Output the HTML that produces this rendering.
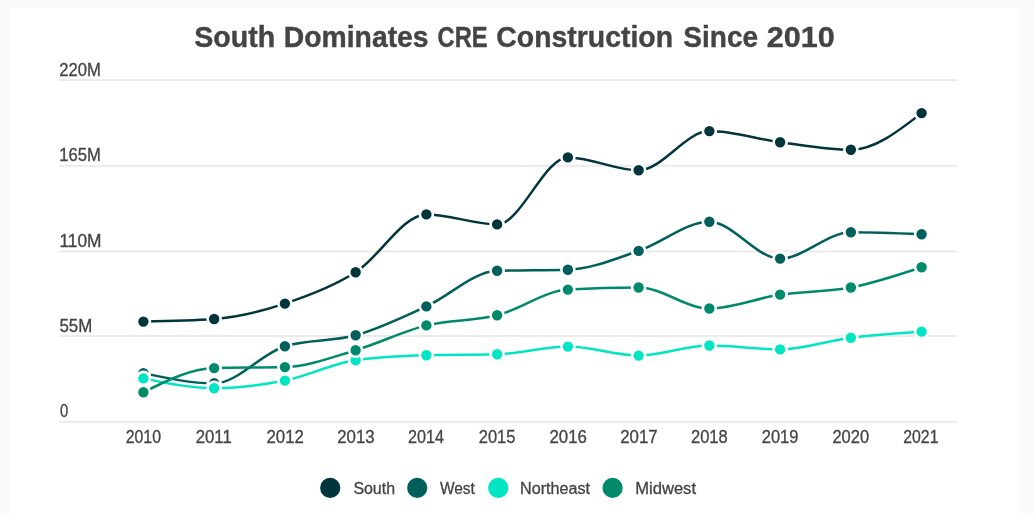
<!DOCTYPE html>
<html lang="en"><head><meta charset="utf-8"><title>South Dominates CRE Construction Since 2010</title>
<style>
html,body{margin:0;padding:0;background:#fafafa;}
body{width:1035px;height:513px;overflow:hidden;position:relative;font-family:"Liberation Sans",sans-serif;}
.card{position:absolute;left:10px;top:8px;width:1010px;height:505px;background:#fff;}
.top{position:absolute;left:0;top:0;width:1035px;height:4px;background:#f9f9f9;}
svg{position:absolute;left:0;top:0;}
text{font-family:"Liberation Sans",sans-serif;fill:#444;}
.t{font-weight:bold;font-size:30.3px;stroke:#444;stroke-width:0.4px;}
.l{font-size:17.5px;stroke:#444;stroke-width:0.3px;}
.g{font-size:16px;stroke:#444;stroke-width:0.3px;}
</style></head><body>
<div class="top"></div>
<div class="card"></div>
<svg width="1035" height="513" viewBox="0 0 1035 513">
<rect x="59.1" y="79.10" width="897.9" height="2" fill="#ebebeb"/>
<rect x="59.1" y="164.80" width="897.9" height="2" fill="#ebebeb"/>
<rect x="59.1" y="250.40" width="897.9" height="2" fill="#ebebeb"/>
<rect x="59.1" y="335.00" width="897.9" height="2" fill="#ebebeb"/>
<rect x="59.1" y="420.80" width="897.9" height="2" fill="#ebebeb"/>
<text class="t" y="47.40"><tspan x="194.30" textLength="80.90" lengthAdjust="spacingAndGlyphs">South</tspan> <tspan x="283.80" textLength="144.80" lengthAdjust="spacingAndGlyphs">Dominates</tspan> <tspan x="437.60" textLength="49.90" lengthAdjust="spacingAndGlyphs">CRE</tspan> <tspan x="496.30" textLength="176.70" lengthAdjust="spacingAndGlyphs">Construction</tspan> <tspan x="683.30" textLength="74.80" lengthAdjust="spacingAndGlyphs">Since</tspan> <tspan x="766.80" textLength="68.00" lengthAdjust="spacingAndGlyphs">2010</tspan></text>
<text class="l" x="59.20" y="75.60" textLength="41.60" lengthAdjust="spacingAndGlyphs">220M</text>
<text class="l" x="59.20" y="161.40" textLength="41.60" lengthAdjust="spacingAndGlyphs">165M</text>
<text class="l" x="59.40" y="247.10" textLength="42.10" lengthAdjust="spacingAndGlyphs">110M</text>
<text class="l" x="59.40" y="331.60" textLength="32.80" lengthAdjust="spacingAndGlyphs">55M</text>
<text class="l" x="59.90" y="417.30" textLength="8.20" lengthAdjust="spacingAndGlyphs">0</text>
<text class="l" x="125.70" y="442.80" textLength="35.30" lengthAdjust="spacingAndGlyphs">2010</text>
<text class="l" x="195.75" y="442.80" textLength="36.00" lengthAdjust="spacingAndGlyphs">2011</text>
<text class="l" x="266.49" y="442.80" textLength="37.40" lengthAdjust="spacingAndGlyphs">2012</text>
<text class="l" x="337.24" y="442.80" textLength="37.40" lengthAdjust="spacingAndGlyphs">2013</text>
<text class="l" x="407.98" y="442.80" textLength="36.00" lengthAdjust="spacingAndGlyphs">2014</text>
<text class="l" x="478.73" y="442.80" textLength="36.70" lengthAdjust="spacingAndGlyphs">2015</text>
<text class="l" x="549.47" y="442.80" textLength="37.40" lengthAdjust="spacingAndGlyphs">2016</text>
<text class="l" x="620.22" y="442.80" textLength="37.40" lengthAdjust="spacingAndGlyphs">2017</text>
<text class="l" x="690.96" y="442.80" textLength="36.70" lengthAdjust="spacingAndGlyphs">2018</text>
<text class="l" x="761.71" y="442.80" textLength="36.70" lengthAdjust="spacingAndGlyphs">2019</text>
<text class="l" x="832.45" y="442.80" textLength="36.70" lengthAdjust="spacingAndGlyphs">2020</text>
<text class="l" x="903.20" y="442.80" textLength="35.30" lengthAdjust="spacingAndGlyphs">2021</text>
<text class="g" x="353.40" y="494.00" textLength="41.60" lengthAdjust="spacingAndGlyphs">South</text>
<text class="g" x="439.90" y="494.00" textLength="35.00" lengthAdjust="spacingAndGlyphs">West</text>
<text class="g" x="520.10" y="494.00" textLength="69.90" lengthAdjust="spacingAndGlyphs">Northeast</text>
<text class="g" x="635.30" y="494.00" textLength="60.70" lengthAdjust="spacingAndGlyphs">Midwest</text>
<path d="M143.40,321.60C166.98,321.17,190.56,320.73,214.15,319.00C237.73,317.27,261.31,311.38,284.89,303.60C308.47,295.82,332.05,287.17,355.63,272.30C379.22,257.43,402.80,214.40,426.38,214.40C449.96,214.40,473.54,224.40,497.12,224.40C520.71,224.40,544.29,157.40,567.87,157.40C591.45,157.40,615.03,170.30,638.62,170.30C662.20,170.30,685.78,131.10,709.36,131.10C732.94,131.10,756.52,139.08,780.11,142.20C803.69,145.32,827.27,149.80,850.85,149.80C874.43,149.80,898.01,131.45,921.60,113.10" fill="none" stroke="#00353d" stroke-width="2.5" stroke-linecap="round" stroke-linejoin="round"/>
<circle cx="143.40" cy="321.60" r="6.5" fill="#00353d" stroke="#fff" stroke-width="2.6"/>
<circle cx="214.15" cy="319.00" r="6.5" fill="#00353d" stroke="#fff" stroke-width="2.6"/>
<circle cx="284.89" cy="303.60" r="6.5" fill="#00353d" stroke="#fff" stroke-width="2.6"/>
<circle cx="355.63" cy="272.30" r="6.5" fill="#00353d" stroke="#fff" stroke-width="2.6"/>
<circle cx="426.38" cy="214.40" r="6.5" fill="#00353d" stroke="#fff" stroke-width="2.6"/>
<circle cx="497.12" cy="224.40" r="6.5" fill="#00353d" stroke="#fff" stroke-width="2.6"/>
<circle cx="567.87" cy="157.40" r="6.5" fill="#00353d" stroke="#fff" stroke-width="2.6"/>
<circle cx="638.62" cy="170.30" r="6.5" fill="#00353d" stroke="#fff" stroke-width="2.6"/>
<circle cx="709.36" cy="131.10" r="6.5" fill="#00353d" stroke="#fff" stroke-width="2.6"/>
<circle cx="780.11" cy="142.20" r="6.5" fill="#00353d" stroke="#fff" stroke-width="2.6"/>
<circle cx="850.85" cy="149.80" r="6.5" fill="#00353d" stroke="#fff" stroke-width="2.6"/>
<circle cx="921.60" cy="113.10" r="6.5" fill="#00353d" stroke="#fff" stroke-width="2.6"/>
<path d="M143.40,373.10C166.98,378.20,190.56,383.30,214.15,383.30C237.73,383.30,261.31,353.47,284.89,346.20C308.47,338.93,332.05,341.93,355.63,335.30C379.22,328.67,402.80,317.15,426.38,306.40C449.96,295.65,473.54,271.53,497.12,270.80C520.71,270.07,544.29,270.43,567.87,269.70C591.45,268.97,615.03,258.88,638.62,250.90C662.20,242.92,685.78,221.80,709.36,221.80C732.94,221.80,756.52,258.60,780.11,258.60C803.69,258.60,827.27,232.20,850.85,232.20C874.43,232.20,898.01,233.20,921.60,234.20" fill="none" stroke="#005f5c" stroke-width="2.5" stroke-linecap="round" stroke-linejoin="round"/>
<circle cx="143.40" cy="373.10" r="6.5" fill="#005f5c" stroke="#fff" stroke-width="2.6"/>
<circle cx="214.15" cy="383.30" r="6.5" fill="#005f5c" stroke="#fff" stroke-width="2.6"/>
<circle cx="284.89" cy="346.20" r="6.5" fill="#005f5c" stroke="#fff" stroke-width="2.6"/>
<circle cx="355.63" cy="335.30" r="6.5" fill="#005f5c" stroke="#fff" stroke-width="2.6"/>
<circle cx="426.38" cy="306.40" r="6.5" fill="#005f5c" stroke="#fff" stroke-width="2.6"/>
<circle cx="497.12" cy="270.80" r="6.5" fill="#005f5c" stroke="#fff" stroke-width="2.6"/>
<circle cx="567.87" cy="269.70" r="6.5" fill="#005f5c" stroke="#fff" stroke-width="2.6"/>
<circle cx="638.62" cy="250.90" r="6.5" fill="#005f5c" stroke="#fff" stroke-width="2.6"/>
<circle cx="709.36" cy="221.80" r="6.5" fill="#005f5c" stroke="#fff" stroke-width="2.6"/>
<circle cx="780.11" cy="258.60" r="6.5" fill="#005f5c" stroke="#fff" stroke-width="2.6"/>
<circle cx="850.85" cy="232.20" r="6.5" fill="#005f5c" stroke="#fff" stroke-width="2.6"/>
<circle cx="921.60" cy="234.20" r="6.5" fill="#005f5c" stroke="#fff" stroke-width="2.6"/>
<path d="M143.40,378.40C166.98,383.30,190.56,388.20,214.15,388.20C237.73,388.20,261.31,385.27,284.89,380.60C308.47,375.93,332.05,363.47,355.63,360.20C379.22,356.93,402.80,355.97,426.38,355.30C449.96,354.63,473.54,354.97,497.12,354.30C520.71,353.63,544.29,346.60,567.87,346.60C591.45,346.60,615.03,355.60,638.62,355.60C662.20,355.60,685.78,345.50,709.36,345.50C732.94,345.50,756.52,349.40,780.11,349.40C803.69,349.40,827.27,340.67,850.85,337.70C874.43,334.73,898.01,333.17,921.60,331.60" fill="none" stroke="#00e5c4" stroke-width="2.5" stroke-linecap="round" stroke-linejoin="round"/>
<circle cx="143.40" cy="378.40" r="6.5" fill="#00e5c4" stroke="#fff" stroke-width="2.6"/>
<circle cx="214.15" cy="388.20" r="6.5" fill="#00e5c4" stroke="#fff" stroke-width="2.6"/>
<circle cx="284.89" cy="380.60" r="6.5" fill="#00e5c4" stroke="#fff" stroke-width="2.6"/>
<circle cx="355.63" cy="360.20" r="6.5" fill="#00e5c4" stroke="#fff" stroke-width="2.6"/>
<circle cx="426.38" cy="355.30" r="6.5" fill="#00e5c4" stroke="#fff" stroke-width="2.6"/>
<circle cx="497.12" cy="354.30" r="6.5" fill="#00e5c4" stroke="#fff" stroke-width="2.6"/>
<circle cx="567.87" cy="346.60" r="6.5" fill="#00e5c4" stroke="#fff" stroke-width="2.6"/>
<circle cx="638.62" cy="355.60" r="6.5" fill="#00e5c4" stroke="#fff" stroke-width="2.6"/>
<circle cx="709.36" cy="345.50" r="6.5" fill="#00e5c4" stroke="#fff" stroke-width="2.6"/>
<circle cx="780.11" cy="349.40" r="6.5" fill="#00e5c4" stroke="#fff" stroke-width="2.6"/>
<circle cx="850.85" cy="337.70" r="6.5" fill="#00e5c4" stroke="#fff" stroke-width="2.6"/>
<circle cx="921.60" cy="331.60" r="6.5" fill="#00e5c4" stroke="#fff" stroke-width="2.6"/>
<path d="M143.40,392.30C166.98,380.53,190.56,368.77,214.15,368.10C237.73,367.43,261.31,367.77,284.89,367.10C308.47,366.43,332.05,357.15,355.63,350.20C379.22,343.25,402.80,331.23,426.38,325.40C449.96,319.57,473.54,321.17,497.12,315.20C520.71,309.23,544.29,291.00,567.87,289.60C591.45,288.20,615.03,287.50,638.62,287.50C662.20,287.50,685.78,308.50,709.36,308.50C732.94,308.50,756.52,298.10,780.11,294.60C803.69,291.10,827.27,292.07,850.85,287.50C874.43,282.93,898.01,275.07,921.60,267.20" fill="none" stroke="#008a6c" stroke-width="2.5" stroke-linecap="round" stroke-linejoin="round"/>
<circle cx="143.40" cy="392.30" r="6.5" fill="#008a6c" stroke="#fff" stroke-width="2.6"/>
<circle cx="214.15" cy="368.10" r="6.5" fill="#008a6c" stroke="#fff" stroke-width="2.6"/>
<circle cx="284.89" cy="367.10" r="6.5" fill="#008a6c" stroke="#fff" stroke-width="2.6"/>
<circle cx="355.63" cy="350.20" r="6.5" fill="#008a6c" stroke="#fff" stroke-width="2.6"/>
<circle cx="426.38" cy="325.40" r="6.5" fill="#008a6c" stroke="#fff" stroke-width="2.6"/>
<circle cx="497.12" cy="315.20" r="6.5" fill="#008a6c" stroke="#fff" stroke-width="2.6"/>
<circle cx="567.87" cy="289.60" r="6.5" fill="#008a6c" stroke="#fff" stroke-width="2.6"/>
<circle cx="638.62" cy="287.50" r="6.5" fill="#008a6c" stroke="#fff" stroke-width="2.6"/>
<circle cx="709.36" cy="308.50" r="6.5" fill="#008a6c" stroke="#fff" stroke-width="2.6"/>
<circle cx="780.11" cy="294.60" r="6.5" fill="#008a6c" stroke="#fff" stroke-width="2.6"/>
<circle cx="850.85" cy="287.50" r="6.5" fill="#008a6c" stroke="#fff" stroke-width="2.6"/>
<circle cx="921.60" cy="267.20" r="6.5" fill="#008a6c" stroke="#fff" stroke-width="2.6"/>
<circle cx="330.2" cy="487.9" r="10.1" fill="#00353d"/>
<circle cx="417.2" cy="487.9" r="10.1" fill="#005f5c"/>
<circle cx="498.2" cy="487.9" r="10.1" fill="#00e5c4"/>
<circle cx="612.6" cy="487.9" r="10.1" fill="#008a6c"/>
</svg>
</body></html>
